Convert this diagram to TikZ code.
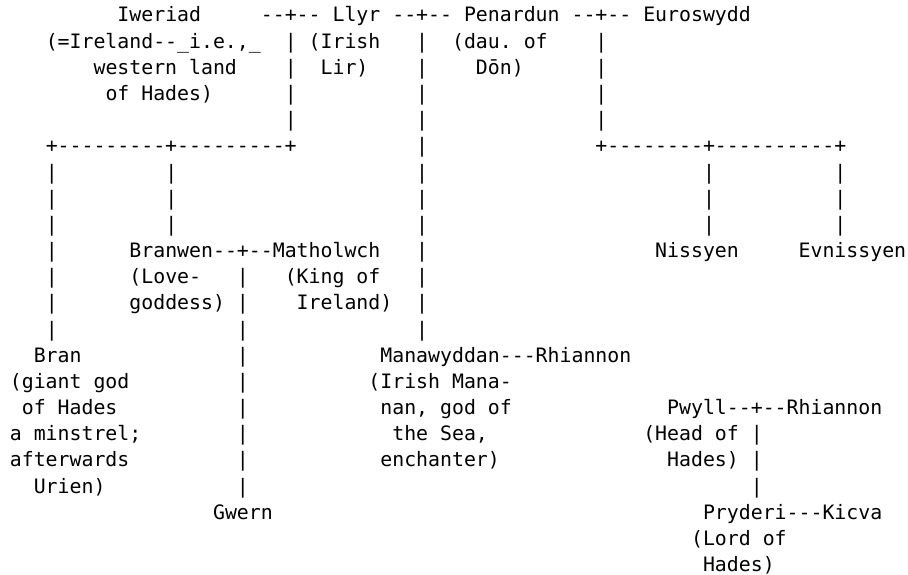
\documentclass[tikz,border=0pt]{standalone}
\usepackage{fontspec}
\setmonofont{DejaVu Sans Mono}
\tikzset{
  txt/.style={anchor=base west, inner sep=0pt, outer sep=0pt,
    font=\ttfamily\frenchspacing\fontsize{19.85}{24}\selectfont, text=black},
  person/.style={txt},
  link/.style={txt}
}
\begin{document}
\begin{tikzpicture}[x=1pt,y=-1pt]
\fill[white] (0,0) rectangle (908,575);
\useasboundingbox (0,0) rectangle (908,575);
\begin{scope}[shift={(9.9,22)}, x=11.95pt, y=-26.17pt]
% row 0
\node[person] (iweriad) at (9,0) {Iweriad};
\node[link] (m1) at (21,0) {--+--};
\node[person] (llyr) at (27,0) {Llyr};
\node[link] (m2) at (32,0) {--+--};
\node[person] (penardun) at (38,0) {Penardun};
\node[link] (m3) at (47,0) {--+--};
\node[person] (euroswydd) at (53,0) {Euroswydd};
% row 1
\node[person] (iweriad1) at (3,1) {(=Ireland--\_i.e.,\_};
\node[link] (v1a) at (23,1) {|};
\node[person] (llyr1) at (25,1) {(Irish};
\node[link] (v1b) at (34,1) {|};
\node[person] (penardun1) at (37,1) {(dau. of};
\node[link] (v1c) at (49,1) {|};
% row 2
\node[person] (iweriad2) at (7,2) {western land};
\node[link] (v2a) at (23,2) {|};
\node[person] (llyr2) at (26,2) {Lir)};
\node[link] (v2b) at (34,2) {|};
\node[person] (penardun2) at (39,2) {Dōn)};
\node[link] (v2c) at (49,2) {|};
% row 3
\node[person] (iweriad3) at (8,3) {of Hades)};
\node[link] (v3a) at (23,3) {|};
\node[link] (v3b) at (34,3) {|};
\node[link] (v3c) at (49,3) {|};
% row 4
\node[link] (v4a) at (23,4) {|};
\node[link] (v4b) at (34,4) {|};
\node[link] (v4c) at (49,4) {|};
% row 5
\node[link] (h5a) at (3,5) {+---------+---------+};
\node[link] (v5b) at (34,5) {|};
\node[link] (h5c) at (49,5) {+--------+----------+};
% rows 6-8
\foreach \r in {6,7,8}{
  \node[link] (va\r) at (3,\r) {|};
  \node[link] (vb\r) at (13,\r) {|};
  \node[link] (vc\r) at (34,\r) {|};
  \node[link] (vd\r) at (58,\r) {|};
  \node[link] (ve\r) at (69,\r) {|};
}
% row 9
\node[link] (v9a) at (3,9) {|};
\node[person] (branwen) at (10,9) {Branwen};
\node[link] (m4) at (17,9) {--+--};
\node[person] (matholwch) at (22,9) {Matholwch};
\node[link] (v9c) at (34,9) {|};
\node[person] (nissyen) at (54,9) {Nissyen};
\node[person] (evnissyen) at (66,9) {Evnissyen};
% row 10
\node[link] (v10a) at (3,10) {|};
\node[person] (branwen1) at (10,10) {(Love-};
\node[link] (v10b) at (19,10) {|};
\node[person] (matholwch1) at (23,10) {(King of};
\node[link] (v10c) at (34,10) {|};
% row 11
\node[link] (v11a) at (3,11) {|};
\node[person] (branwen2) at (10,11) {goddess)};
\node[link] (v11b) at (19,11) {|};
\node[person] (matholwch2) at (24,11) {Ireland)};
\node[link] (v11c) at (34,11) {|};
% row 12
\node[link] (v12a) at (3,12) {|};
\node[link] (v12b) at (19,12) {|};
\node[link] (v12c) at (34,12) {|};
% row 13
\node[person] (bran) at (2,13) {Bran};
\node[link] (v13b) at (19,13) {|};
\node[person] (manawyddan) at (31,13) {Manawyddan};
\node[link] (m5) at (41,13) {---};
\node[person] (rhiannon) at (44,13) {Rhiannon};
% row 14
\node[person] (bran1) at (0,14) {(giant god};
\node[link] (v14b) at (19,14) {|};
\node[person] (manawyddan1) at (30,14) {(Irish Mana-};
% row 15
\node[person] (bran2) at (1,15) {of Hades};
\node[link] (v15b) at (19,15) {|};
\node[person] (manawyddan2) at (31,15) {nan, god of};
\node[person] (pwyll) at (55,15) {Pwyll};
\node[link] (m6) at (60,15) {--+--};
\node[person] (rhiannon2) at (65,15) {Rhiannon};
% row 16
\node[person] (bran3) at (0,16) {a minstrel;};
\node[link] (v16b) at (19,16) {|};
\node[person] (manawyddan3) at (32,16) {the Sea,};
\node[person] (pwyll1) at (53,16) {(Head of};
\node[link] (v16d) at (62,16) {|};
% row 17
\node[person] (bran4) at (0,17) {afterwards};
\node[link] (v17b) at (19,17) {|};
\node[person] (manawyddan4) at (31,17) {enchanter)};
\node[person] (pwyll2) at (55,17) {Hades)};
\node[link] (v17d) at (62,17) {|};
% row 18
\node[person] (bran5) at (2,18) {Urien)};
\node[link] (v18b) at (19,18) {|};
\node[link] (v18d) at (62,18) {|};
% row 19
\node[person] (gwern) at (17,19) {Gwern};
\node[person] (pryderi) at (58,19) {Pryderi};
\node[link] (m7) at (65,19) {---};
\node[person] (kicva) at (68,19) {Kicva};
% row 20-21
\node[person] (pryderi1) at (57,20) {(Lord of};
\node[person] (pryderi2) at (58,21) {Hades)};
\end{scope}
\end{tikzpicture}
\end{document}
